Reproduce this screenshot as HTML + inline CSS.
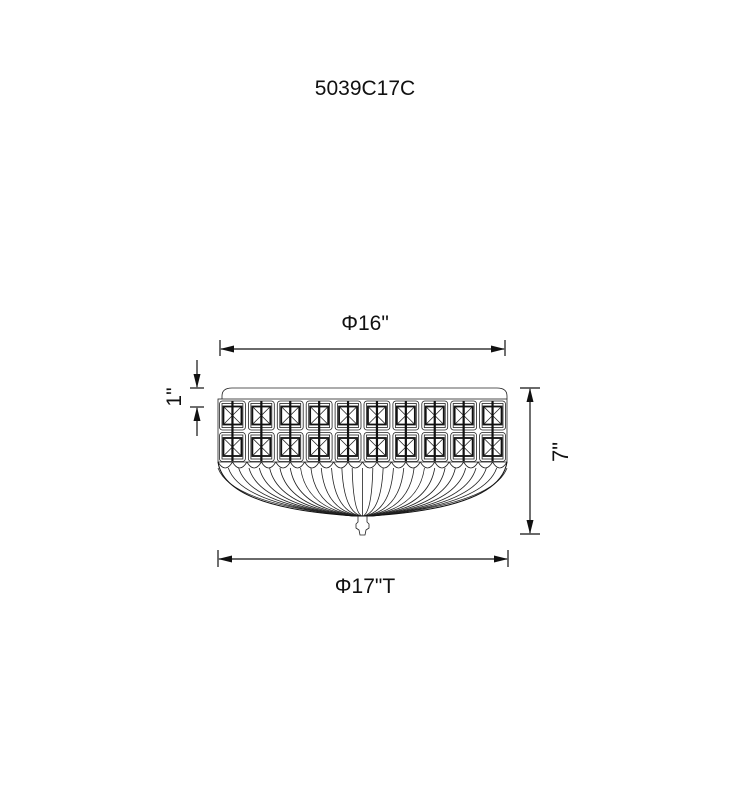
<!DOCTYPE html>
<html><head><meta charset="utf-8"><style>
html,body{margin:0;padding:0;background:#fff;}
svg{display:block;}
text{font-family:"Liberation Sans",sans-serif;fill:#111;}
</style></head><body>
<svg id="s" width="730" height="800" viewBox="0 0 730 800" xmlns="http://www.w3.org/2000/svg">
<defs>
<marker id="a" markerWidth="14" markerHeight="8" refX="13" refY="4" orient="auto-start-reverse" markerUnits="userSpaceOnUse"><path d="M0,0.5 L14,4 L0,7.5 Z" fill="#111"/></marker>
</defs>
<text x="365" y="95" font-size="21" text-anchor="middle">5039C17C</text>
<text x="365" y="330" font-size="21" text-anchor="middle">Φ16"</text>
<text x="365" y="593" font-size="21" text-anchor="middle">Φ17"T</text>
<g stroke="#111" stroke-width="1.2" fill="none">
<line x1="220" y1="340" x2="220" y2="356"/><line x1="505" y1="340" x2="505" y2="356"/>
<line x1="221" y1="349" x2="504" y2="349" marker-end="url(#a)" marker-start="url(#a)"/>
<line x1="218" y1="550" x2="218" y2="567"/><line x1="508" y1="550" x2="508" y2="567"/>
<line x1="219" y1="559" x2="507" y2="559" marker-end="url(#a)" marker-start="url(#a)"/>
<line x1="520" y1="388" x2="540" y2="388"/><line x1="520" y1="534" x2="540" y2="534"/>
<line x1="530" y1="389" x2="530" y2="533" marker-end="url(#a)" marker-start="url(#a)"/>
<line x1="190" y1="388" x2="204" y2="388"/><line x1="190" y1="407" x2="204" y2="407"/>
<line x1="197" y1="360" x2="197" y2="387" marker-end="url(#a)"/>
<line x1="197" y1="436" x2="197" y2="408" marker-end="url(#a)"/>
</g>
<text transform="translate(181,397) rotate(-90)" font-size="21" text-anchor="middle">1"</text>
<text transform="translate(568,452) rotate(-90)" font-size="22" text-anchor="middle">7"</text>
<g id="lamp" stroke="#222" stroke-width="0.8" fill="none">
<path d="M222,399 L222,396 Q222,388 232,388 L497,388 Q507,388 507,396 L507,399"/>
<rect x="218" y="399" width="289" height="63"/>
</g>
</svg>
<script>
var g=document.getElementById('lamp'),h='';
var p=28.9;
for(var c=0;c<10;c++){var x=218+c*p;
 for(var r=0;r<2;r++){var y=400+r*31.5;
  h+='<rect x="'+(x+1.5)+'" y="'+(y+1)+'" width="'+(p-3)+'" height="29" rx="3"/>';
  h+='<rect x="'+(x+4)+'" y="'+(y+3.5)+'" width="'+(p-8)+'" height="24"/>';
  var cx=x+p/2,cy=y+15.5,s=9;
  h+='<rect x="'+(cx-s)+'" y="'+(cy-s)+'" width="'+(2*s)+'" height="'+(2*s)+'" stroke-width="1.8" stroke="#111"/>';
  h+='<path d="M'+(cx-s)+','+(cy-s)+'L'+(cx+s)+','+(cy+s)+'M'+(cx+s)+','+(cy-s)+'L'+(cx-s)+','+(cy+s)+'"/>';
 }
 h+='<line x1="'+(x+p/2)+'" y1="401" x2="'+(x+p/2)+'" y2="461" stroke-width="2.2" stroke="#111"/>';
}
for(var i=0;i<20;i++){var x0=218+i*289/20,w=289/20;
 h+='<path d="M'+x0+',462 Q'+(x0+w/2)+',474 '+(x0+w)+',462"/>';}
for(var i=0;i<=28;i++){var x0=218+i*289/28;var t=(x0-362.5)/144.5;
 var ex=362.5+t*10, ey=516;
 h+='<path d="M'+x0+',468 Q'+(x0+(ex-x0)*0.1)+','+(512-Math.abs(t)*8)+' '+ex+','+ey+'"/>';}
h+='<path d="M218,462 Q225,508 356,516 L369,516 Q500,508 507,462" stroke="#111" stroke-width="1"/>';
h+='<path d="M358,516 L358,522 L356,524 L356,528 L359,530 L360,535 L365,535 L366,530 L369,528 L369,524 L367,522 L367,516"/>';
g.insertAdjacentHTML('beforeend',h);
</script>
</body></html>
